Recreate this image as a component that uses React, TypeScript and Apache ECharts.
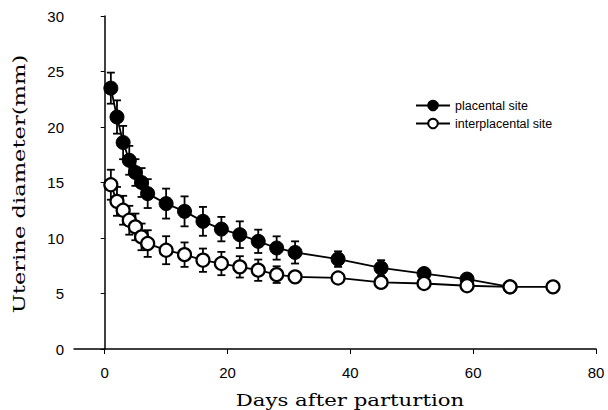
import React, { useEffect, useRef } from "react";
import * as echarts from "echarts";

const days = [1, 2, 3, 4, 5, 6, 7, 10, 13, 16, 19, 22, 25, 28, 31, 38, 45, 52, 59, 66, 73];
const placental = [23.5, 20.9, 18.6, 17.0, 15.9, 15.0, 14.0, 13.1, 12.4, 11.5, 10.8, 10.3, 9.7, 9.1, 8.7, 8.1, 7.3, 6.8, 6.3, 5.6];
const placentalErr = [1.4, 1.5, 1.5, 1.3, 1.2, 1.3, 1.3, 1.35, 1.35, 1.3, 1.1, 1.2, 1.05, 1.05, 1.0, 0.7, 0.7, 0.35, 0.35, 0];
const interplacental = [14.8, 13.3, 12.5, 11.6, 11.0, 10.1, 9.5, 8.9, 8.5, 8.0, 7.7, 7.4, 7.1, 6.7, 6.5, 6.4, 6.0, 5.9, 5.7, 5.6, 5.6];
const interplacentalErr = [1.35, 1.3, 1.3, 1.3, 1.2, 1.2, 1.2, 1.26, 1.1, 1.05, 1.05, 0.96, 0.96, 0.75, 0, 0, 0, 0, 0, 0, 0];
const xTicks = [0, 20, 40, 60, 80];
const seriesNames = ["placental site", "interplacental site"];
const xTitle = "Days after parturtion";
const yTitle = "Uterine diameter(mm)";

function errData(vals: number[], errs: number[]) {
  return vals.map((v, i) => [days[i], v - errs[i], v + errs[i]]).filter((d, i) => errs[i] > 0);
}

function errSeries(data: number[][]) {
  return {
    type: "custom",
    silent: true,
    z: 1,
    renderItem: (params: any, api: any) => {
      const x = api.value(0);
      const lo = api.coord([x, api.value(1)]);
      const hi = api.coord([x, api.value(2)]);
      const w = 4;
      const style = { stroke: "#000", lineWidth: 1.8 };
      return {
        type: "group",
        children: [
          { type: "line", shape: { x1: lo[0], y1: lo[1], x2: hi[0], y2: hi[1] }, style },
          { type: "line", shape: { x1: hi[0] - w, y1: hi[1], x2: hi[0] + w, y2: hi[1] }, style },
          { type: "line", shape: { x1: lo[0] - w, y1: lo[1], x2: lo[0] + w, y2: lo[1] }, style },
        ],
      };
    },
    encode: { x: 0, y: [1, 2] },
    data,
  };
}

export default function App() {
  const ref = useRef<HTMLDivElement>(null);
  useEffect(() => {
    if (!ref.current) return;
    document.body.style.margin = "0";
    const chart = echarts.init(ref.current, null, { renderer: "svg" });
    chart.setOption({
      animation: false,
      backgroundColor: "#fff",
      grid: { left: 74, right: 12, top: 16, bottom: 61, outerBoundsMode: "none", containLabel: false },
      legend: {
        orient: "vertical",
        left: 410,
        top: 94,
        itemWidth: 34,
        itemHeight: 12,
        itemGap: 5,
        data: seriesNames,
        textStyle: { fontFamily: "Liberation Sans, Arial", fontSize: 12.5, color: "#000" },
      },
      graphic: [
        {
          type: "text",
          x: 350,
          y: 400,
          scaleX: 1.25,
          style: {
            text: xTitle,
            font: "17px 'DejaVu Serif', serif",
            fill: "#000",
            align: "center",
            verticalAlign: "middle",
          },
        },
        {
          type: "text",
          x: 19,
          y: 184,
          rotation: Math.PI / 2,
          scaleX: 1.33,
          style: {
            text: yTitle,
            font: "17px 'DejaVu Serif', serif",
            fill: "#000",
            align: "center",
            verticalAlign: "middle",
          },
        },
      ],
      xAxis: {
        type: "value",
        min: -5,
        max: 80,
        splitLine: { show: false },
        axisLine: { lineStyle: { color: "#000", width: 1.5 } },
        axisTick: { customValues: xTicks, length: 5, lineStyle: { color: "#000" } },
        axisLabel: {
          customValues: xTicks,
          color: "#000",
          fontSize: 15,
          fontFamily: "Liberation Sans, Arial",
          margin: 16,
        },
      },
      yAxis: {
        type: "value",
        min: 0,
        max: 30,
        interval: 5,
        splitLine: { show: false },
        axisLine: { show: true, lineStyle: { color: "#000", width: 1.5 } },
        axisTick: { show: true, length: 4, lineStyle: { color: "#000" } },
        axisLabel: { color: "#000", fontSize: 15, fontFamily: "Liberation Sans, Arial", margin: 10 },
      },
      series: [
        errSeries(errData(placental, placentalErr)),
        errSeries(errData(interplacental, interplacentalErr)),
        {
          name: seriesNames[0],
          type: "line",
          z: 3,
          data: placental.map((v, i) => [days[i], v]),
          symbol: "circle",
          symbolSize: 14,
          lineStyle: { color: "#000", width: 1.8 },
          itemStyle: { color: "#000", borderColor: "#000", borderWidth: 1 },
        },
        {
          name: seriesNames[1],
          type: "line",
          z: 4,
          data: interplacental.map((v, i) => [days[i], v]),
          symbol: "circle",
          symbolSize: 13,
          lineStyle: { color: "#000", width: 1.8 },
          itemStyle: { color: "#fff", borderColor: "#000", borderWidth: 2.2 },
        },
      ],
    });
    return () => chart.dispose();
  }, []);
  return <div ref={ref} style={{ width: 608, height: 410 }} />;
}
